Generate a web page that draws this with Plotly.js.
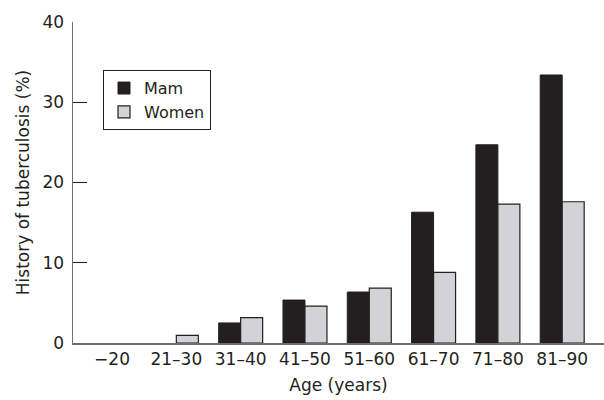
<!DOCTYPE html>
<html><head><meta charset="utf-8">
<script src="https://cdn.plot.ly/plotly-3.0.1.min.js"></script>
<style>html,body{margin:0;padding:0;background:#fff}</style>
</head><body><div id="chart" style="width:604px;height:400px"></div>
<script>
var categories = ["\u221220", "21\u201330", "31\u201340", "41\u201350", "51\u201360", "61\u201370", "71\u201380", "81\u201390"];
var menValues = [0, 0, 2.5, 5.35, 6.35, 16.3, 24.7, 33.4];
var womenValues = [0, 0.95, 3.15, 4.6, 6.85, 8.8, 17.3, 17.6];
var yTicks = [0, 10, 20, 30, 40];

// zero-height bars get no outline; arrays reversed so the legend swatch takes the outline
function rev(a) { return a.slice().reverse(); }
function outline(vals, w) { return vals.map(function (v) { return v > 0 ? w : 0; }); }

var traces = [
  {type: "bar", name: "Mam", x: rev(categories), y: rev(menValues),
   marker: {color: "#231f20", line: {color: "#231f20", width: outline(rev(menValues), 1)}}},
  {type: "bar", name: "Women", x: rev(categories), y: rev(womenValues),
   marker: {color: "#d1d3d4", line: {color: "#231f20", width: outline(rev(womenValues), 1.2)}}}
];
var F = "'DejaVu Sans', sans-serif";
var layout = {
  width: 604, height: 400,
  margin: {l: 73, r: 0, t: 22, b: 57},
  paper_bgcolor: "#fff", plot_bgcolor: "#fff",
  font: {family: F, size: 17, color: "#231f20"},
  barmode: "group", bargap: 0.316, bargroupgap: 0,
  showlegend: true,
  legend: {x: 0.0565, y: 0.85, xanchor: "left", yanchor: "top",
    bordercolor: "#231f20", borderwidth: 1, bgcolor: "#fff",
    font: {size: 16}, tracegroupgap: 0, itemwidth: 30},
  xaxis: {type: "category", categoryorder: "array", categoryarray: categories,
    range: [-0.607, 7.65], showline: true,
    linecolor: "#6d6e71", linewidth: 1.5, ticks: "", showgrid: false,
    tickfont: {size: 17}, zeroline: false, fixedrange: true,
    title: {text: "Age (years)", font: {size: 17}, standoff: 11}},
  yaxis: {range: [0, 40], tickvals: yTicks, showline: true,
    linecolor: "#6d6e71", linewidth: 1.5, ticks: "inside", ticklen: 14,
    tickcolor: "#231f20", tickwidth: 1.2, showgrid: false, zeroline: false,
    tickfont: {size: 17}, ticklabelstandoff: 4,
    title: {text: "History of tuberculosis (%)", font: {size: 17}, standoff: 8}}
};
Plotly.newPlot("chart", traces, layout, {displayModeBar: false, staticPlot: true});
</script></body></html>
